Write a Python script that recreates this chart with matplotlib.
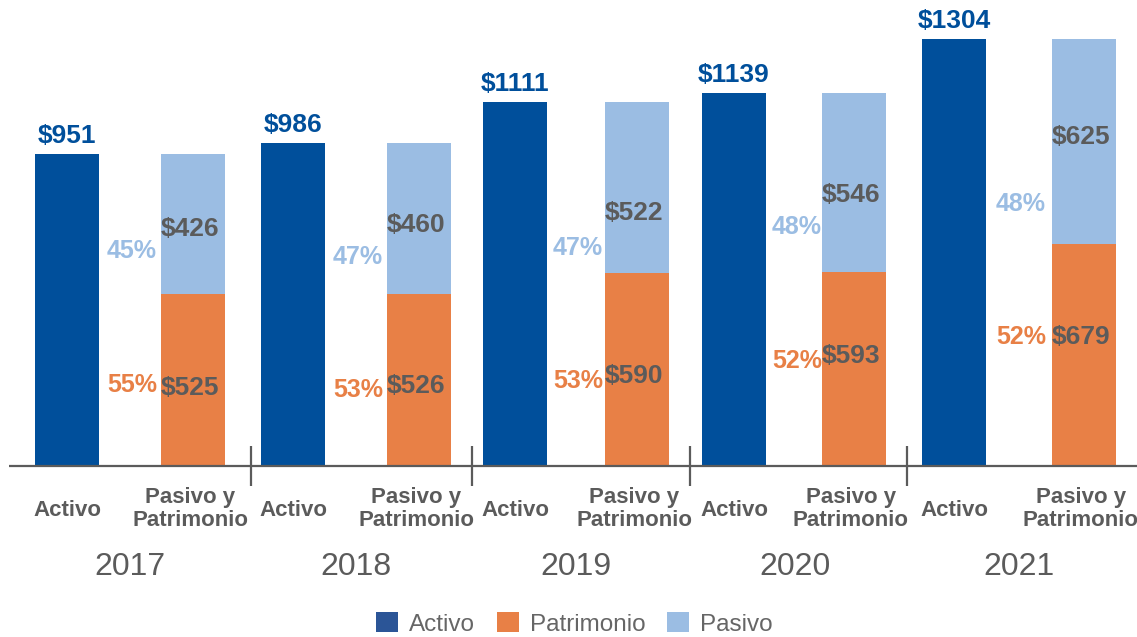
import matplotlib
matplotlib.use("Agg")
import matplotlib.pyplot as plt
from matplotlib.patches import Patch

# ---------------- data ----------------
years = ["2017", "2018", "2019", "2020", "2021"]
activo = [951, 986, 1111, 1139, 1304]
patrimonio = [525, 526, 590, 593, 679]
pasivo = [426, 460, 522, 546, 625]
pct_pasivo = ["45%", "47%", "47%", "48%", "48%"]
pct_patrimonio = ["55%", "53%", "53%", "52%", "52%"]
cat_labels = ["Activo", "Pasivo y\nPatrimonio"]
legend_labels = ["Activo", "Patrimonio", "Pasivo"]

# ---------------- style ----------------
C_ACT = "#004f9b"
C_PAT = "#e88046"
C_PAS = "#9bbde3"
C_LEG_ACT = "#2b5597"
C_GREY = "#5b5b5b"
FONT = ["Liberation Sans", "DejaVu Sans"]
plt.rcParams["font.family"] = FONT

W, H = 1137, 637
SCALE = 0.3276          # pixels per unit
BASE = 466              # pixel row of zero line

def py(p):
    """pixel row -> data y"""
    return (BASE - p) / SCALE

fig = plt.figure(figsize=(W / 100, H / 100), dpi=100)
ax = fig.add_axes([0, 0, 1, 1])
ax.set_xlim(0, W)
ax.set_ylim(py(H), py(0))
ax.axis("off")

group_c = [130, 356, 576, 795, 1019]
act_x = [67, 293, 515, 734, 954]
pas_x = [193, 419, 637, 854, 1084]
sep_x = [251, 472, 690, 907]
bw = 64

# label layout (pixel rows)
pas_val_y = [229, 225, 213, 195, 137]
pat_val_y = [388, 386, 376, 356, 337]
pas_pct_y = [251, 257, 248, 227, 204]
pat_pct_y = [385, 390, 381, 361, 337]

for i in range(len(years)):
    xa = act_x[i]
    xp = pas_x[i]
    ax.bar(xa, activo[i], width=bw, color=C_ACT, zorder=2)
    ax.bar(xp, patrimonio[i], width=bw, color=C_PAT, zorder=2)
    ax.bar(xp, pasivo[i], width=bw, bottom=patrimonio[i], color=C_PAS, zorder=2)

    ax.text(xa, activo[i] + 6 / SCALE, f"${activo[i]}", ha="center", va="bottom",
            fontsize=19, fontweight="bold", color=C_ACT)
    ax.text(xp - 3, py(pas_val_y[i]), f"${pasivo[i]}", ha="center", va="center",
            fontsize=19, fontweight="bold", color=C_GREY, zorder=3)
    ax.text(xp - 3, py(pat_val_y[i]), f"${patrimonio[i]}", ha="center", va="center",
            fontsize=19, fontweight="bold", color=C_GREY, zorder=3)
    ax.text(group_c[i] + 2, py(pas_pct_y[i]), pct_pasivo[i], ha="center", va="center",
            fontsize=18, fontweight="bold", color=C_PAS, zorder=3)
    ax.text(group_c[i] + 2, py(pat_pct_y[i]), pct_patrimonio[i], ha="center", va="center",
            fontsize=18, fontweight="bold", color=C_PAT, zorder=3)

    ax.text(xa, py(510), cat_labels[0], ha="center", va="center",
            fontsize=16, fontweight="bold", color=C_GREY)
    ax.text(xp - 3, py(509), cat_labels[1], ha="center", va="center",
            fontsize=16, fontweight="bold", color=C_GREY, linespacing=1.1)
    ax.text(group_c[i], py(567), years[i], ha="center", va="center",
            fontsize=23, color=C_GREY)

# axis line and separators
ax.hlines(0, 9, W, color=C_GREY, lw=1.6, zorder=4)
for xs in sep_x:
    ax.vlines(xs, py(486), py(446), color=C_GREY, lw=1.6, zorder=4)

handles = [Patch(facecolor=c, edgecolor="none") for c in (C_LEG_ACT, C_PAT, C_PAS)]
leg = ax.legend(handles, legend_labels, loc="center",
                bbox_to_anchor=((W / 2 + 6) / W, 1 - 624 / H),
                ncol=3, frameon=False, fontsize=17.5, handlelength=0.9, handleheight=0.9,
                handletextpad=0.45, columnspacing=0.9)
for t in leg.get_texts():
    t.set_color("#666666")

fig.savefig("out.png", dpi=100)
